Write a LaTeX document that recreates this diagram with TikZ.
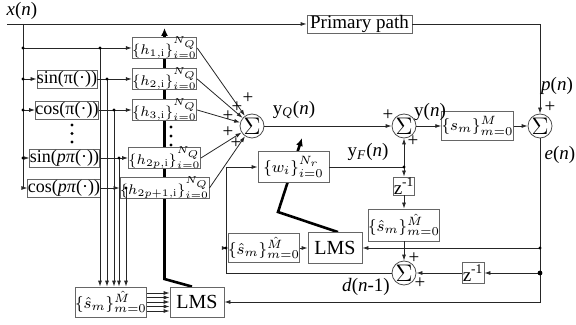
\documentclass[tikz,border=0pt]{standalone}
\usepackage{fontspec}
\setmainfont{Liberation Serif}
\usepackage{amsmath}
\usetikzlibrary{arrows.meta, backgrounds}

\begin{document}
\begin{tikzpicture}[x=0.5pt, y=-0.5pt, font=\fontsize{9.5}{11}\selectfont,
        blk/.style={rectangle, draw=black!60, fill=white, inner sep=0pt},
        hbox/.style={blk, minimum width=27.5pt, minimum height=10.5pt, font=\fontsize{7.5}{9}\selectfont},
        fbox/.style={blk, minimum height=9pt, font=\fontsize{9}{10}\selectfont},
        sbox/.style={blk, minimum width=27pt, minimum height=15pt, font=\fontsize{8}{9.5}\selectfont},
        zbox/.style={blk, minimum width=9.5pt, minimum height=9pt},
        sumnode/.style={circle, draw=black!70, fill=white, minimum size=12pt, inner sep=0pt, font=\large},
        arr/.style={-{Latex[length=3pt, width=2pt]}, black!85},
        ln/.style={black!85},
        wgt/.style={line width=1.3pt, -{Latex[length=4pt, width=3.5pt]}},
        pm/.style={inner sep=0pt}]
    \useasboundingbox (0,0) rectangle (576,325);

    % input and primary path
    \node (xlab) at (22,11) {\textit{x}(\textit{n})};
    \coordinate (xin) at (7,24);
    \node[blk, minimum width=52.5pt, minimum height=9pt] (prim) at (359.5,24) {Primary path};

    % nonlinear expansion
    \node[fbox, minimum width=30pt]   (sin1) at (67,79)    {sin(π(·))};
    \node[fbox, minimum width=30pt]   (cos1) at (67,110)   {cos(π(·))};
    \node[fbox, minimum width=32.5pt] (sinp) at (64.5,158) {sin(\textit{pπ}(·))};
    \node[fbox, minimum width=33pt]   (cosp) at (64,188)   {cos(\textit{pπ}(·))};

    % filter banks
    \foreach \nm/\yy/\ix in {h1/48/1, h2/79/2, h3/110/3, hp/158/2p, hq/188/2p+1}
        \node[hbox] (\nm) at (164.5,\yy) {$\{h_{\ix,\mathrm{i}}\}_{i=0}^{N_Q}$};
    \node[blk, minimum width=35.5pt, minimum height=15.5pt, font=\fontsize{8.5}{10}\selectfont] (wf) at (293.5,167) {$\{w_i\}_{i=0}^{N_r}$};

    % sums
    \node[sumnode] (s0) at (252,126) {$\Sigma$};
    \node[sumnode] (s1) at (404,126) {$\Sigma$};
    \node[sumnode] (s2) at (540,126) {$\Sigma$};
    \node[sumnode] (s3) at (404,273) {$\Sigma$};

    % secondary path models
    \node[sbox, minimum height=14.5pt, minimum width=26.5pt] (smb) at (477.5,126) {$\{s_m\}_{m=0}^{M}$};
    \node[sbox, minimum height=16pt] (shC) at (404,225)   {$\{\hat{s}_m\}_{m=0}^{\hat{M}}$};
    \node[sbox, minimum height=14.5pt] (shB) at (264,248) {$\{\hat{s}_m\}_{m=0}^{\hat{M}}$};
    \node[sbox] (shA) at (111,302) {$\{\hat{s}_m\}_{m=0}^{\hat{M}}$};
    \node[zbox] (z1) at (404,186) {z\textsuperscript{-1}};
    \node[zbox, minimum width=11pt, minimum height=10.5pt] (z2) at (473,273) {z\textsuperscript{-1}};

    % LMS blocks
    \node[sbox, minimum height=15.5pt, font=\fontsize{10}{12}\selectfont] (lmsB) at (335,248) {LMS};
    \node[sbox, font=\fontsize{10}{12}\selectfont] (lmsA) at (197,302) {LMS};

    % junctions
    \coordinate (b0) at (23,24);
    \coordinate (b1) at (23,48);
    \foreach \j/\xx/\yy in {1/100/48, 2/107/79, 3/114/110, 4/119/158, 5/126/188}
        \coordinate (j\j) at (\xx,\yy);
    \coordinate (fj) at (404,167);
    \coordinate (dc) at (226,273);
    \coordinate (dj) at (226,248);
    \coordinate (e1) at (540,248);
    \coordinate (e2) at (540,273);
    \coordinate (tq) at (164.5,28);
    \coordinate (tw) at (302,138);

    % adaptation arrows
    \begin{pgfonlayer}{background}
        \draw[wgt] ([xshift=-2.5pt]lmsA.north) -- (164.5,279) -- (tq);
        \draw[wgt] ([xshift=1.5pt]lmsB.north) -- (278,212) -- (tw);
    \end{pgfonlayer}

    % reference branch
    \draw[arr] (xin) -- (prim.west);
    \draw[arr] (prim.east) -| (s2.north);
    \draw[arr] (b0) |- (cosp.west);
    \draw[arr] (b1) -- (h1.west);
    \draw[arr] (sin1.west -| b0) -- (sin1.west);
    \draw[arr] (cos1.west -| b0) -- (cos1.west);
    \draw[arr] (sinp.west -| b0) -- (sinp.west);
    \draw[arr] (sin1.east) -- (h2.west);
    \draw[arr] (cos1.east) -- (h3.west);
    \draw[arr] (sinp.east) -- (hp.west);
    \draw[arr] (cosp.east) -- (hq.west);
    \foreach \j in {1,...,5}
        \draw[arr] (j\j) -- (j\j |- shA.north);
    \foreach \dy in {-4.5,-2.25,0,2.25,4.5}
        \draw[arr] ([yshift=\dy pt]shA.east) -- ([yshift=\dy pt]lmsA.west);
    \foreach \nm in {h1,h2,h3,hp,hq}
        \draw[arr] (\nm.east) -- (s0);

    % output side
    \draw[arr] (s0) -- (s1);
    \draw[arr] (s1) -- (smb);
    \draw[arr] (smb) -- (s2);
    \draw[arr] (s2.south) |- (lmsA.east);
    \draw[arr] (e1) -- (lmsB.east);
    \draw[arr] (e2) -- (z2.east);
    \draw[arr] (z2.west) -- (s3.east);
    \draw[arr] (s3.west) -- (dc) |- (wf.west);
    \draw[arr] (dj) -- (shB.west);
    \draw[arr] (shB) -- (lmsB);
    \draw[ln] (wf.east) -- (fj);
    \draw[arr] (fj) -- (s1.south);
    \draw[arr] (fj) -- (z1.north);
    \draw[arr] (z1) -- (shC);
    \draw[arr] (shC) -- (s3);

    % dots
    \foreach \p in {b1, j1, j2, j3, j4, j5, fj, dj, e1}
        \fill (\p) circle (1.6);
    \foreach \yy in {79,110,158}
        \fill (23,\yy) circle (1.6);
    \fill (e2) circle (2.4);
    \foreach \yy in {125,133.5,142}
        \fill (72,\yy) circle (1.6);
    \foreach \yy in {127,136,145}
        \fill (171,\yy) circle (1.6);

    % signs
    \node[pm] (pa) at (248,98)  {+};
    \node[pm] (pb) at (237,107) {+};
    \node[pm] (pc) at (228,116) {+};
    \node[pm] (pd) at (228,132) {+};
    \node[pm] (pe) at (236,143) {+};
    \node[pm] (pf) at (388,115) {+};
    \node[pm] (pg) at (413,141) {+};
    \node[pm] (ph) at (550,107) {+};
    \node[pm] (pi) at (414,258) {+};
    \node[pm] (pj) at (420,283) {+};

    % signal labels
    \node (yq)  at (294,110) {y\textsubscript{\textit{Q}}(\textit{n})};
    \node (yn)  at (430,112) {y(\textit{n})};
    \node (yf)  at (368,152) {y\textsubscript{\textit{F}}(\textit{n})};
    \node (pn)  at (557,86)  {\textit{p}(\textit{n})};
    \node (en)  at (560,155) {\textit{e}(\textit{n})};
    \node (dn)  at (366,287) {\textit{d}(\textit{n}-1)};
\end{tikzpicture}
\end{document}
